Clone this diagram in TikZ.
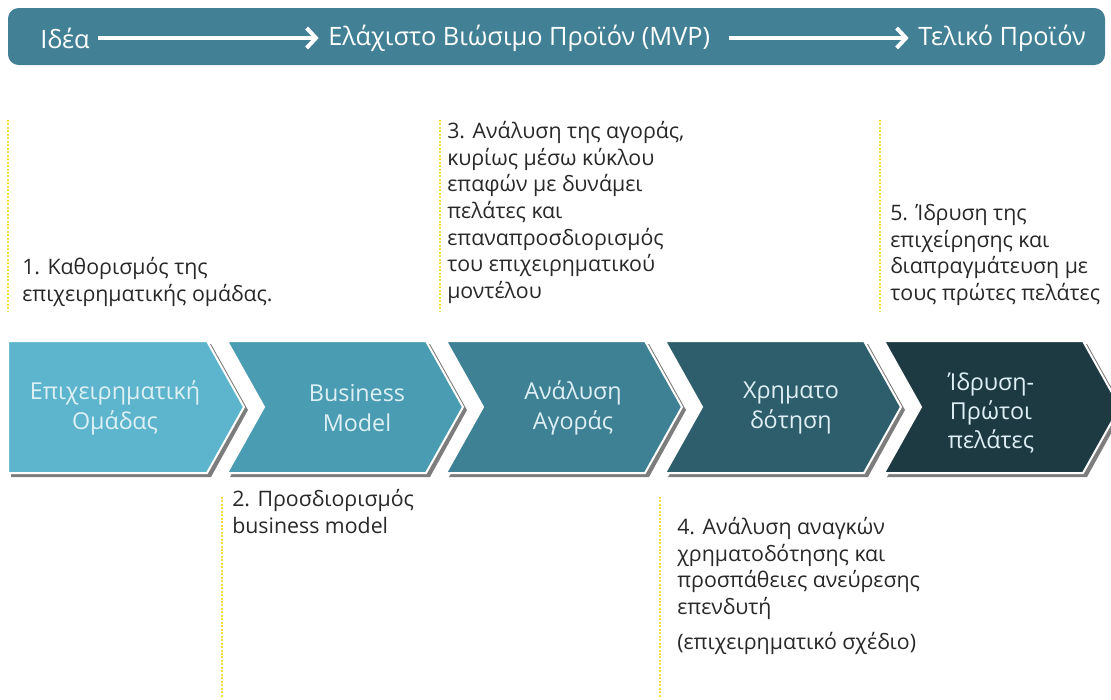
\documentclass[tikz,border=0pt]{standalone}
\usepackage{fontspec}
\setmainfont{Open Sans}
\usetikzlibrary{arrows.meta}

\definecolor{barteal}{RGB}{66,128,150}
\definecolor{chevA}{RGB}{92,181,204}
\definecolor{chevB}{RGB}{74,156,178}
\definecolor{chevC}{RGB}{62,128,148}
\definecolor{chevD}{RGB}{46,94,108}
\definecolor{chevE}{RGB}{29,58,66}
\definecolor{dotyellow}{RGB}{245,222,60}
\definecolor{notegray}{RGB}{40,40,40}
\definecolor{chevtext}{RGB}{222,240,245}

\tikzset{
  bartext/.style={text=white, inner sep=0pt, font=\fontsize{19}{23}\selectfont},
  bararrow/.style={white, line width=3pt,
    -{Straight Barb[length=7pt,width=15pt,line width=3pt]}},
  chevlabel/.style={text=chevtext, align=center,
    font=\fontsize{17.5}{22}\selectfont},
  note/.style={text=notegray, align=left, anchor=north west, inner sep=0pt,
    font=\fontsize{16}{20}\selectfont},
  dotline/.style={dotyellow, line width=2.2pt, dash pattern=on 1.5pt off 1.1pt}
}

\begin{document}
\begin{tikzpicture}[x=0.75pt,y=-0.75pt]
\useasboundingbox (0,0) rectangle (1111,700);
% Stage bar on top
\fill[barteal, rounded corners=8pt] (8,8) rectangle (1105,65);
\node[bartext, anchor=west] (idea) at (40,38) {Ιδέα};
\node[bartext, anchor=west] (mvp) at (328,38) {Ελάχιστο Βιώσιμο Προϊόν (MVP)};
\node[bartext, anchor=west] (final) at (918,38) {Τελικό Προϊόν};
\draw[bararrow, shorten <=6pt, shorten >=7pt] (idea) -- (mvp);
\draw[bararrow, shorten <=14pt, shorten >=7pt] (mvp) -- (final);
% Chevrons: shadow, then fill with white edge
\foreach \i/\col in {0/chevA,1/chevB,2/chevC,3/chevD,4/chevE}{
  \pgfmathsetmacro\L{8+219*\i}
  \pgfmathsetmacro\N{\i>0 ? 37 : 0}
  \fill[gray!80!black, opacity=.85] (\L+3,344) -- (\L+203,344) -- (\L+240,410)
    -- (\L+203,477) -- (\L+3,477) -- (\L+3+\N,410) -- cycle;
  \filldraw[fill=\col, draw=white, line width=1.5pt] (\L,341) -- (\L+199,341)
    -- (\L+236,407) -- (\L+199,473) -- (\L,473) -- (\L+\N,407) -- cycle;
}
\node[chevlabel] (team) at (115,408) {Επιχειρηματική\\Ομάδας};
\node[chevlabel] (model) at (357,408) {Business\\Model};
\node[chevlabel] (market) at (573,408) {Ανάλυση\\Αγοράς};
\node[chevlabel] (funding) at (791,408) {Χρηματο\\δότηση};
\node[chevlabel] (launch) at (991,413) {Ίδρυση-\\Πρώτοι\\πελάτες};
% Dotted markers
\draw[dotline] (8,120) -- (8,312);
\draw[dotline] (440,120) -- (440,312);
\draw[dotline] (880,120) -- (880,312);
\draw[dotline] (222,497) -- (222,697);
\draw[dotline] (660,497) -- (660,697);
% Step notes
\node[note] (step1) at (22,257) {1. Καθορισμός της\\επιχειρηματικής ομάδας.};
\node[note] (step3) at (447,121) {3. Ανάλυση της αγοράς,\\κυρίως μέσω κύκλου\\
  επαφών με δυνάμει\\πελάτες και\\επαναπροσδιορισμός\\του επιχειρηματικού\\μοντέλου};
\node[note] (step5) at (890,204) {5. Ίδρυση της\\επιχείρησης και\\
  διαπραγμάτευση με\\τους πρώτες πελάτες};
\node[note] (step2) at (232,489) {2. Προσδιορισμός\\business model};
\node[note] (step4) at (677,517) {4. Ανάλυση αναγκών\\χρηματοδότησης και\\
  προσπάθειες ανεύρεσης\\επενδυτή};
\node[note, anchor=north west] (step4b) at (step4.south west) [yshift=-9pt]
  {(επιχειρηματικό σχέδιο)};
\end{tikzpicture}
\end{document}
